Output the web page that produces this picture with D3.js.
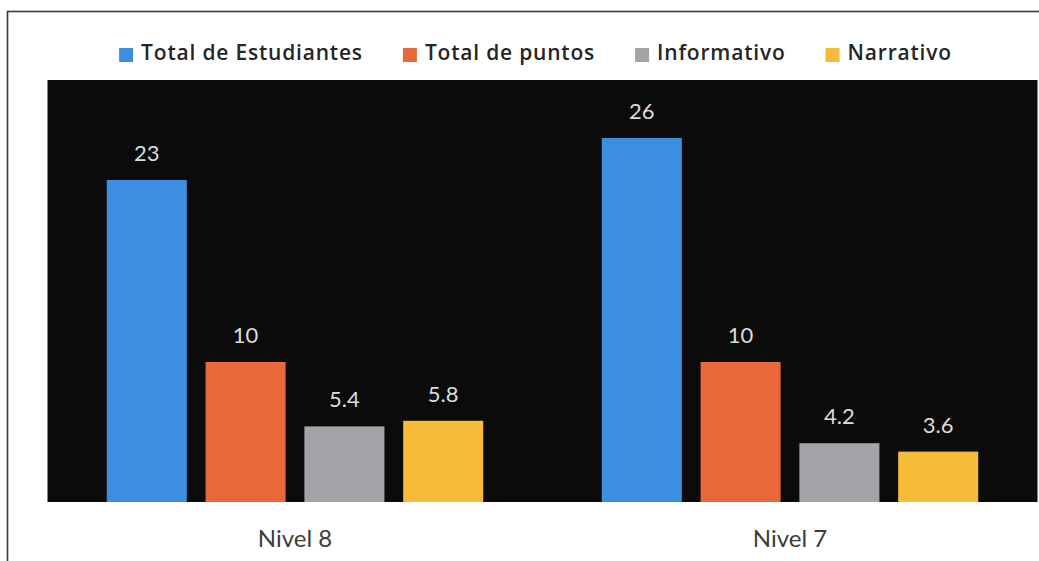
<!DOCTYPE html>
<html>
<head>
<meta charset="utf-8">
<script src="https://cdn.jsdelivr.net/npm/d3@7"></script>
<style>
  html, body { margin: 0; padding: 0; background: #ffffff; }
  svg { display: block; }
</style>
</head>
<body>
<svg id="chart" width="1039" height="561"></svg>
<script>
// Categories and series
const categories = ["Nivel 8", "Nivel 7"];
const seriesNames = ["Total de Estudiantes", "Total de puntos", "Informativo", "Narrativo"];
const totalEstudiantes = [23, 26];
const totalPuntos = [10, 10];
const informativo = [5.4, 4.2];
const narrativo = [5.8, 3.6];
const seriesColors = ["#3b8ee0", "#e9683a", "#a4a4a8", "#f7bb3a"];

const seriesValues = [totalEstudiantes, totalPuntos, informativo, narrativo];
const rows = categories.map((c, i) => ({
  category: c,
  values: seriesNames.map((s, j) => ({ series: s, value: seriesValues[j][i], color: seriesColors[j] }))
}));

const svg = d3.select("#chart");
const W = 1039, H = 561;
const font = "Lato, 'Open Sans', sans-serif";
const legendFont = "'Open Sans', Lato, sans-serif";

// Outer frame (top and left edges visible)
svg.append("rect")
  .attr("x", 7.5).attr("y", 11.5)
  .attr("width", W + 10).attr("height", H + 10)
  .attr("fill", "#ffffff")
  .attr("stroke", "#3a3a3a").attr("stroke-width", 1.6);

// Plot area
const plot = { left: 47.5, right: 1037.5, top: 80, bottom: 502 };
svg.append("rect")
  .attr("x", plot.left).attr("y", plot.top)
  .attr("width", plot.right - plot.left).attr("height", plot.bottom - plot.top)
  .attr("fill", "#0b0b0b");

const x0 = d3.scaleBand().domain(categories).range([plot.left, plot.right]).paddingInner(0).paddingOuter(0);
const x1 = d3.scaleBand().domain(seriesNames).range([0, x0.bandwidth()]).paddingInner(0.19).paddingOuter(0.6);
const y = d3.scaleLinear().domain([0, 30]).range([plot.bottom, 82]);

const groups = svg.append("g").selectAll("g")
  .data(rows).join("g")
  .attr("transform", d => `translate(${x0(d.category)},0)`);

groups.selectAll("rect")
  .data(d => d.values).join("rect")
  .attr("x", d => x1(d.series))
  .attr("y", d => y(d.value))
  .attr("width", x1.bandwidth())
  .attr("height", d => y(0) - y(d.value))
  .attr("fill", d => d.color);

// Value labels
groups.selectAll("text")
  .data(d => d.values).join("text")
  .attr("x", d => x1(d.series) + x1.bandwidth() / 2)
  .attr("y", d => y(d.value) - 19)
  .attr("text-anchor", "middle")
  .attr("font-family", font)
  .attr("font-size", 22)
  .attr("fill", "#dcdcdc")
  .text(d => d.value);

// Category axis labels
const xAxis = svg.append("g")
  .attr("transform", `translate(0,${plot.bottom})`)
  .call(d3.axisBottom(x0).tickSize(0).tickPadding(28));
xAxis.select(".domain").remove();
xAxis.selectAll("text")
  .attr("font-family", font)
  .attr("font-size", 24)
  .attr("fill", "#3c3c3c");

// Legend
const legend = svg.append("g");
const items = legend.selectAll("g").data(seriesNames).join("g");
items.append("rect")
  .attr("width", 14).attr("height", 14)
  .attr("y", 48)
  .attr("fill", (d, i) => seriesColors[i]);
items.append("text")
  .attr("x", 22).attr("y", 60)
  .attr("font-family", legendFont)
  .attr("font-weight", 600)
  .attr("font-size", 21)
  .attr("letter-spacing", 0.8)
  .attr("fill", "#262626")
  .text(d => d);
let cx = 0;
const offsets = [];
items.each(function () {
  offsets.push(cx);
  const w = d3.select(this).select("text").node().getComputedTextLength();
  cx += 22 + w + 40;
});
const legendWidth = cx - 40;
const legendStart = 535.5 - legendWidth / 2;
items.attr("transform", (d, i) => `translate(${legendStart + offsets[i]},0)`);
</script>
</body>
</html>
